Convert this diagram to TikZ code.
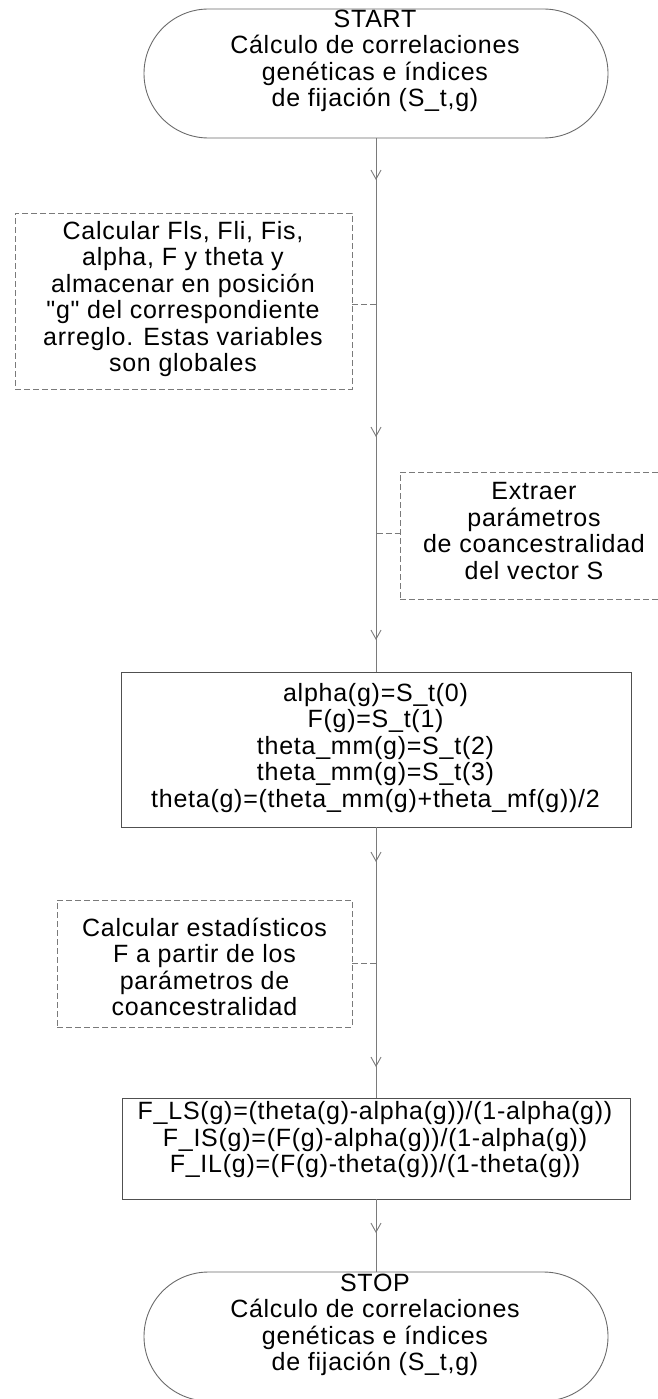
\documentclass[tikz,border=0pt]{standalone}
\usepackage{fontspec}
\setmainfont{Liberation Sans}[LetterSpace=3,Ligatures=TeXOff]
\usetikzlibrary{arrows.meta,decorations.markings}
\definecolor{edgegray}{HTML}{7A7A7A}
\definecolor{boxgray}{HTML}{505050}
\definecolor{termgray}{HTML}{6A6A6A}
\begin{document}
\begin{tikzpicture}[x=1pt,y=-1pt,
  txt/.style={align=center,font=\fontsize{25}{26.5}\selectfont,inner sep=0pt},
  term/.style={draw=termgray,line width=0.9pt,rounded corners=64.5pt,
    minimum width=464pt,minimum height=129pt,inner sep=0pt,outer sep=0pt},
  proc/.style={draw=boxgray,line width=1pt,inner sep=0pt,outer sep=0pt},
  note/.style={draw=edgegray,line width=0.9pt,dash pattern=on 6pt off 3pt,
    inner sep=0pt,outer sep=0pt},
  flow/.style={draw=edgegray,line width=1pt,postaction={decorate}},
  link/.style={draw=edgegray,line width=0.9pt,dash pattern=on 6pt off 3pt},
  chev/.tip={Straight Barb[length=9pt,width=10pt,line width=0.9pt]}]
\useasboundingbox (0,0) rectangle (657,1399);

% terminals
\node[term] (start) at (376,73.5) {};
\node[txt] (starttext) at (375,61) {START\\Cálculo de correlaciones\\genéticas e índices\\de fijación (S\_t,g)};
\node[term] (stop) at (376,1336.5) {};
\node[txt] (stoptext) at (375,1325) {STOP\\Cálculo de correlaciones\\genéticas e índices\\de fijación (S\_t,g)};

% process boxes
\node[proc,minimum width=510pt,minimum height=155pt] (assign) at (376,749.5) {};
\node[txt] (assigntext) at (375.5,748) {alpha(g)=S\_t(0)\\F(g)=S\_t(1)\\theta\_mm(g)=S\_t(2)\\theta\_mm(g)=S\_t(3)\\theta(g)=(theta\_mm(g)+theta\_mf(g))/2};
\node[proc,minimum width=508pt,minimum height=101pt] (fstats) at (376,1148.5) {};
\node[txt] (fstatstext) at (375,1140) {F\_LS(g)=(theta(g)-alpha(g))/(1-alpha(g))\\F\_IS(g)=(F(g)-alpha(g))/(1-alpha(g))\\F\_IL(g)=(F(g)-theta(g))/(1-theta(g))};

% comments
\node[note,minimum width=337pt,minimum height=176pt] (note1) at (183.5,301) {};
\node[txt] (note1text) at (183,299) {Calcular Fls, Fli, Fis,\\alpha, F y theta y\\almacenar en posición\\"g" del correspondiente\\arreglo. Estas variables\\son globales};
\node[note,minimum width=268pt,minimum height=127pt] (note2) at (534,535.5) {};
\node[txt] (note2text) at (534,531) {Extraer\\parámetros\\de coancestralidad\\del vector S};
\node[note,minimum width=295pt,minimum height=127pt] (note3) at (204.5,963.5) {};
\node[txt] (note3text) at (204.5,967) {Calcular estadísticos\\F a partir de los\\parámetros de\\coancestralidad};

% attachment points of the comments on the main line
\coordinate (j1) at (376.5,304);
\coordinate (j2) at (376.5,533);
\coordinate (j3) at (376.5,963);

% main flow
\draw[flow,decoration={markings,
    mark=at position 42pt with {\arrow{chev}},
    mark=at position 299pt with {\arrow{chev}},
    mark=at position 502pt with {\arrow{chev}}}]
  (start.south) -- (assign.north);
\draw[flow,decoration={markings,
    mark=at position 35pt with {\arrow{chev}},
    mark=at position 240pt with {\arrow{chev}}}]
  (assign.south) -- (fstats.north);
\draw[flow,decoration={markings,
    mark=at position 34pt with {\arrow{chev}}}]
  (fstats.south) -- (stop.north);

% comment links
\draw[link] (j1 -| note1.east) -- (j1);
\draw[link] (j2) -- (j2 -| note2.west);
\draw[link] (j3 -| note3.east) -- (j3);
\end{tikzpicture}
\end{document}
